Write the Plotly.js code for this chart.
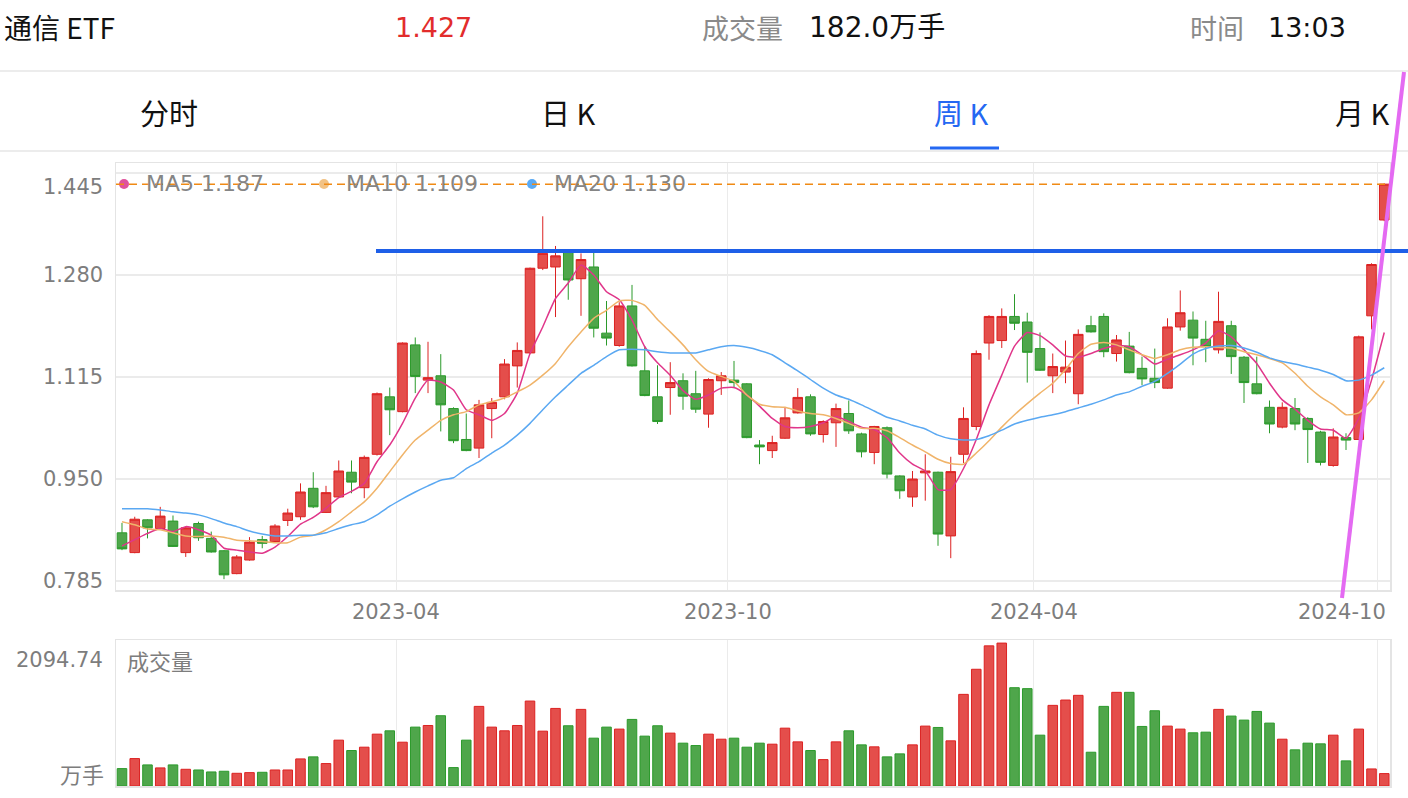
<!DOCTYPE html>
<html><head><meta charset="utf-8">
<script src="https://cdn.plot.ly/plotly-3.0.1.min.js"></script>
<style>html,body{margin:0;padding:0;background:#fff;overflow:hidden}</style>
</head><body>
<div id="chart" style="width:1408px;height:798px"></div>
<script>
// ---------- data (weekly K, 通信ETF) ----------
const open = [
0.863,0.831,0.884,0.870,0.882,0.831,0.878,0.854,0.834,0.797,
0.819,0.852,0.849,0.883,0.889,0.935,0.896,0.921,0.961,0.936,
0.990,1.083,1.059,1.167,1.110,1.117,1.064,1.014,1.000,1.064,
1.083,1.133,1.154,1.291,1.293,1.318,1.274,1.293,1.186,1.166,
1.230,1.125,1.083,1.098,1.109,1.088,1.055,1.109,1.110,1.104,
1.005,0.996,1.016,1.057,1.083,1.022,1.041,1.056,1.023,0.993,
1.033,0.955,0.921,0.960,0.961,0.858,0.990,1.035,1.170,1.174,
1.213,1.204,1.161,1.117,1.123,1.088,1.198,1.213,1.153,1.165,
1.129,1.113,1.097,1.196,1.207,1.176,1.159,1.198,1.147,1.104,
1.066,1.034,1.064,1.048,1.026,0.972,1.017,1.014,1.214,1.369];
const high = [
0.879,0.889,0.885,0.905,0.891,0.873,0.881,0.865,0.835,0.827,
0.856,0.858,0.877,0.902,0.943,0.961,0.939,0.980,0.980,0.988,
1.090,1.098,1.171,1.179,1.172,1.152,1.066,1.056,1.078,1.081,
1.144,1.171,1.292,1.375,1.327,1.322,1.315,1.318,1.238,1.236,
1.264,1.165,1.134,1.139,1.121,1.125,1.113,1.123,1.141,1.105,
1.013,1.020,1.065,1.097,1.087,1.045,1.072,1.077,1.025,1.036,
1.035,0.956,0.963,0.990,0.962,0.986,1.066,1.158,1.215,1.226,
1.249,1.219,1.187,1.153,1.174,1.192,1.214,1.218,1.183,1.188,
1.148,1.161,1.210,1.255,1.221,1.206,1.253,1.206,1.149,1.148,
1.077,1.074,1.081,1.050,1.028,1.032,1.024,1.182,1.299,1.428];
const low = [
0.835,0.830,0.854,0.869,0.840,0.824,0.850,0.831,0.788,0.796,
0.818,0.838,0.848,0.874,0.884,0.903,0.895,0.920,0.927,0.919,
0.988,1.021,1.058,1.089,1.089,1.027,1.008,0.995,0.984,1.016,
1.079,1.098,1.152,1.288,1.212,1.240,1.214,1.179,1.166,1.164,
1.132,1.084,1.039,1.054,1.062,1.057,1.033,1.086,1.097,1.016,
0.974,0.984,1.015,1.056,1.020,1.009,1.002,1.023,0.985,0.974,
0.951,0.918,0.905,0.915,0.842,0.822,0.976,1.029,1.143,1.162,
1.191,1.106,1.125,1.089,1.105,1.071,1.187,1.147,1.140,1.121,
1.102,1.097,1.096,1.190,1.134,1.139,1.153,1.120,1.073,1.087,
1.024,1.032,1.029,0.976,0.972,0.970,0.997,1.013,1.192,1.367];
const close = [
0.837,0.885,0.871,0.890,0.841,0.871,0.855,0.832,0.795,0.824,
0.848,0.846,0.874,0.895,0.929,0.905,0.928,0.963,0.945,0.985,
1.088,1.062,1.170,1.116,1.114,1.070,1.012,0.996,1.070,1.074,
1.136,1.158,1.291,1.315,1.311,1.272,1.305,1.194,1.178,1.230,
1.133,1.085,1.043,1.106,1.084,1.063,1.111,1.117,1.106,1.017,
1.002,1.009,1.049,1.082,1.023,1.043,1.064,1.028,0.994,1.035,
0.958,0.931,0.950,0.963,0.861,0.962,1.048,1.153,1.213,1.213,
1.202,1.155,1.126,1.132,1.131,1.184,1.188,1.156,1.175,1.122,
1.112,1.106,1.196,1.219,1.178,1.164,1.205,1.148,1.106,1.088,
1.039,1.066,1.039,1.030,0.977,1.018,1.013,1.180,1.297,1.427];
const ma5 = [
0.842,0.852,0.862,0.870,0.865,0.873,0.868,0.859,0.838,0.835,
0.832,0.830,0.840,0.857,0.877,0.888,0.903,0.920,0.930,0.943,
0.978,1.005,1.040,1.081,1.110,1.107,1.094,1.062,1.054,1.045,
1.056,1.089,1.153,1.196,1.242,1.267,1.296,1.280,1.253,1.240,
1.207,1.164,1.138,1.118,1.093,1.079,1.086,1.097,1.098,1.086,
1.068,1.048,1.035,1.033,1.035,1.041,1.051,1.043,1.034,1.030,
1.017,0.992,0.974,0.963,0.933,0.933,0.967,1.014,1.070,1.118,
1.165,1.187,1.182,1.167,1.149,1.147,1.153,1.161,1.166,1.164,
1.151,1.136,1.144,1.151,1.159,1.170,1.190,1.180,1.159,1.137,
1.105,1.078,1.063,1.045,1.031,1.029,1.016,1.048,1.110,1.187];
const ma10 = [
0.881,0.876,0.869,0.868,0.863,0.858,0.857,0.858,0.856,0.851,
0.850,0.849,0.847,0.847,0.856,0.859,0.868,0.881,0.897,0.913,
0.935,0.962,0.989,1.013,1.029,1.045,1.054,1.059,1.070,1.075,
1.081,1.091,1.102,1.118,1.137,1.164,1.188,1.210,1.223,1.238,
1.239,1.231,1.208,1.188,1.167,1.143,1.124,1.116,1.108,1.086,
1.071,1.067,1.066,1.060,1.056,1.054,1.048,1.040,1.032,1.032,
1.028,1.017,1.005,0.994,0.982,0.975,0.974,0.992,1.012,1.034,
1.054,1.072,1.089,1.105,1.127,1.153,1.168,1.171,1.167,1.159,
1.151,1.145,1.151,1.159,1.163,1.164,1.163,1.162,1.156,1.151,
1.145,1.138,1.121,1.100,1.083,1.070,1.054,1.057,1.078,1.109];
const ma20 = [
0.902,0.902,0.902,0.900,0.897,0.895,0.892,0.886,0.879,0.873,
0.866,0.861,0.858,0.858,0.859,0.859,0.863,0.870,0.876,0.881,
0.892,0.906,0.918,0.929,0.939,0.948,0.952,0.967,0.978,0.992,
1.005,1.021,1.040,1.062,1.083,1.102,1.121,1.134,1.148,1.159,
1.160,1.159,1.156,1.154,1.154,1.154,1.159,1.164,1.166,1.163,
1.158,1.151,1.138,1.125,1.111,1.097,1.086,1.079,1.070,1.060,
1.050,1.044,1.037,1.031,1.021,1.015,1.013,1.014,1.020,1.029,
1.039,1.045,1.050,1.054,1.059,1.065,1.071,1.078,1.086,1.091,
1.100,1.108,1.121,1.136,1.152,1.161,1.165,1.166,1.162,1.155,
1.146,1.140,1.136,1.131,1.126,1.119,1.109,1.110,1.118,1.130];
const volume = [
255,402,309,265,309,245,235,206,216,186,
196,201,235,235,397,427,329,672,520,569,
760,809,642,863,887,1030,270,672,1167,863,
809,887,1245,804,1137,883,1123,701,863,834,
976,731,883,775,628,593,760,686,701,569,
628,613,848,647,520,387,647,809,603,574,
427,471,603,878,858,662,1343,1711,2054,2094.74,
1441,1427,745,1182,1260,1329,495,1167,1373,1373,
873,1103,878,834,780,789,1123,1025,966,1093,
922,686,530,628,618,745,368,834,250,182];
const priceTicks = [0.785, 0.950, 1.115, 1.280, 1.445];
const monthTickPos = [21.5, 47.5, 71.5, 98.5];          // week index of month boundary
const monthTickText = ['2023-04', '2023-10', '2024-04', '2024-10'];
const volMax = 2094.74;
const resistance = 1.319;
const maNames = ['MA5', 'MA10', 'MA20'];
const header = {name: '通信 ETF', price: '1.427', volLabel: '成交量', vol: '182.0万手', timeLabel: '时间', time: '13:03'};
const tabs = ['分时', '日 K', '周 K', '月 K'];

// ---------- layout helpers ----------
const W = 1408, H = 798, L = 116, R = 18, T = 163, B = 12;
const PW = W - L - R, PH = H - T - B;
const px = x => (x - L) / PW;
const py = y => (H - B - y) / PH;

const UP = '#e44e4b', UP_LINE = '#dc2222', DN = '#4fa64b', DN_LINE = '#2b9a2b';
const FONT = 'DejaVu Sans, Noto Sans CJK SC, sans-serif';
const CJK = 'Noto Sans CJK SC, DejaVu Sans, sans-serif';
const MA_COLORS = ['#e0368a', '#f0b46a', '#5aa8f2'];
const MA_DOT = ['#e0529c', '#f2c284', '#5aaaf4'];

const N = close.length;
const idx = close.map((_, i) => i);
const last = close[N - 1];

const traces = [
  {type: 'candlestick', x: idx, open, high, low, close, xaxis: 'x', yaxis: 'y',
   increasing: {line: {color: UP_LINE, width: 1}, fillcolor: UP},
   decreasing: {line: {color: DN_LINE, width: 1}, fillcolor: DN},
   whiskerwidth: 0, hoverinfo: 'skip', showlegend: false},
];
[ma5, ma10, ma20].forEach((m, k) => traces.push({
  type: 'scatter', mode: 'lines', x: idx, y: m, xaxis: 'x', yaxis: 'y',
  line: {color: MA_COLORS[k], width: 1.5, shape: 'spline', smoothing: 0.5},
  hoverinfo: 'skip', showlegend: false}));
traces.push({
  type: 'bar', x: idx, y: volume, xaxis: 'x2', yaxis: 'y2',
  marker: {color: idx.map(i => close[i] >= open[i] ? UP : DN),
           line: {color: idx.map(i => close[i] >= open[i] ? UP_LINE : DN_LINE), width: 1}},
  hoverinfo: 'skip', showlegend: false});

const ann = [];
const shapes = [];
const gray = '#7d7d7d';
// price axis labels
priceTicks.forEach((v, k) => ann.push({xref: 'paper', yref: 'y', x: px(105), y: v, xanchor: 'right', yanchor: 'middle',
  text: v.toFixed(3), showarrow: false, font: {family: FONT, size: 21, color: gray},
  yshift: k === priceTicks.length - 1 ? -14 : 0}));
// date labels
monthTickPos.forEach((p, k) => ann.push({xref: 'x', yref: 'paper', x: p, y: py(612), xanchor: 'center', yanchor: 'middle',
  text: monthTickText[k], showarrow: false, font: {family: FONT, size: 21, color: gray},
  xshift: k === monthTickPos.length - 1 ? -36 : 0}));
// volume panel labels
ann.push({xref: 'paper', yref: 'paper', x: px(105), y: py(660), xanchor: 'right', yanchor: 'middle', text: volMax.toFixed(2),
  showarrow: false, font: {family: FONT, size: 21, color: gray}});
ann.push({xref: 'paper', yref: 'paper', x: px(106), y: py(773), xanchor: 'right', yanchor: 'middle', text: '万手',
  showarrow: false, font: {family: CJK, size: 22, color: gray}});
ann.push({xref: 'paper', yref: 'paper', x: px(125), y: py(660), xanchor: 'left', yanchor: 'middle', text: '成交量',
  showarrow: false, font: {family: CJK, size: 22, color: gray}});
// MA legend
const legX = [124, 324, 532];
[ma5, ma10, ma20].forEach((m, k) => {
  const cx = legX[k], cy = 184, r = 5;
  shapes.push({type: 'circle', xref: 'paper', yref: 'paper', x0: px(cx - r), x1: px(cx + r), y0: py(cy + r), y1: py(cy - r),
    fillcolor: MA_DOT[k], line: {width: 0}});
  ann.push({xref: 'paper', yref: 'paper', x: px(cx + 20), y: py(cy), xanchor: 'left', yanchor: 'middle',
    text: maNames[k] + ' ' + m[N - 1].toFixed(3), showarrow: false, font: {family: FONT, size: 22, color: '#858585'}});
});
// header
const hy = py(27);
const hdr = (x, text, color, anchor, fam, size) => ann.push({xref: 'paper', yref: 'paper', x: px(x), y: hy, xanchor: anchor, yanchor: 'middle',
  text, showarrow: false, font: {family: fam || CJK, size: size || 27, color}});
hdr(2, header.name, '#111111', 'left', CJK, 28);
hdr(433, header.price, '#e22c2c', 'center', FONT);
hdr(700, header.volLabel, '#8a8a8a', 'left');
hdr(807, header.vol, '#111111', 'left', FONT, 28);
hdr(1188, header.timeLabel, '#8a8a8a', 'left');
hdr(1266, header.time, '#111111', 'left', FONT);
// tabs
const tabX = [169, 568, 961, 1362];
tabs.forEach((t, k) => ann.push({xref: 'paper', yref: 'paper', x: px(tabX[k]), y: py(112), xanchor: 'center', yanchor: 'middle',
  text: t, showarrow: false, font: {family: CJK, size: 29, color: k === 2 ? '#2468f2' : '#111111'}}));
// separators & tab underline
[71, 151].forEach(y => shapes.push({type: 'line', xref: 'paper', yref: 'paper', x0: px(0), x1: px(W), y0: py(y), y1: py(y),
  line: {color: '#e6e6e6', width: 1.5}}));
shapes.push({type: 'line', xref: 'paper', yref: 'paper', x0: px(930), x1: px(999), y0: py(148), y1: py(148),
  line: {color: '#2468f2', width: 3}});
// current price dashed line
shapes.push({type: 'line', xref: 'x', yref: 'y', x0: -0.47, x1: N - 1 + 0.2, y0: last, y1: last,
  line: {color: '#f08a14', width: 1.5, dash: '8px,5px'}});
// hand-drawn annotations
shapes.push({type: 'line', xref: 'paper', yref: 'y', x0: px(376), x1: px(W), y0: resistance, y1: resistance,
  line: {color: '#1e5fe8', width: 4}});
shapes.push({type: 'line', xref: 'paper', yref: 'paper', x0: px(1342), x1: px(1404), y0: py(598), y1: py(72),
  line: {color: '#e46af2', width: 4}});

const gridc = '#ebebeb', framec = '#e4e4e4';
const layout = {
  width: W, height: H, margin: {l: L, r: R, t: T, b: B},
  paper_bgcolor: '#ffffff', plot_bgcolor: '#ffffff',
  showlegend: false, hovermode: false, dragmode: false,
  boxgap: 0.25, boxgroupgap: 0, bargap: 0.25,
  xaxis: {domain: [0, 1], anchor: 'y', range: [-0.47, 99.45], tickmode: 'array', tickvals: monthTickPos,
    showticklabels: false, ticks: '', showgrid: true, gridcolor: gridc, gridwidth: 1,
    showline: true, mirror: true, linecolor: framec, linewidth: 1.5, zeroline: false,
    rangeslider: {visible: false}, fixedrange: true},
  yaxis: {domain: [py(590), 1], anchor: 'x', range: [0.7705, 1.4612], tickmode: 'array', tickvals: priceTicks,
    showticklabels: false, ticks: '', showgrid: true, gridcolor: gridc, gridwidth: 1.5,
    showline: true, mirror: true, linecolor: framec, linewidth: 1.5, zeroline: false, fixedrange: true},
  xaxis2: {domain: [0, 1], anchor: 'y2', matches: 'x', range: [-0.47, 99.45], tickmode: 'array', tickvals: monthTickPos,
    showticklabels: false, ticks: '', showgrid: true, gridcolor: gridc, gridwidth: 1,
    showline: true, mirror: true, linecolor: framec, linewidth: 1.5, zeroline: false, fixedrange: true},
  yaxis2: {domain: [0, py(640)], anchor: 'x2', range: [0, 2140], showticklabels: false, ticks: '', showgrid: false,
    showline: true, mirror: true, linecolor: framec, linewidth: 1.5, zeroline: false, fixedrange: true},
  annotations: ann, shapes: shapes
};
Plotly.newPlot('chart', traces, layout, {staticPlot: true, displayModeBar: false});
</script>
</body></html>
